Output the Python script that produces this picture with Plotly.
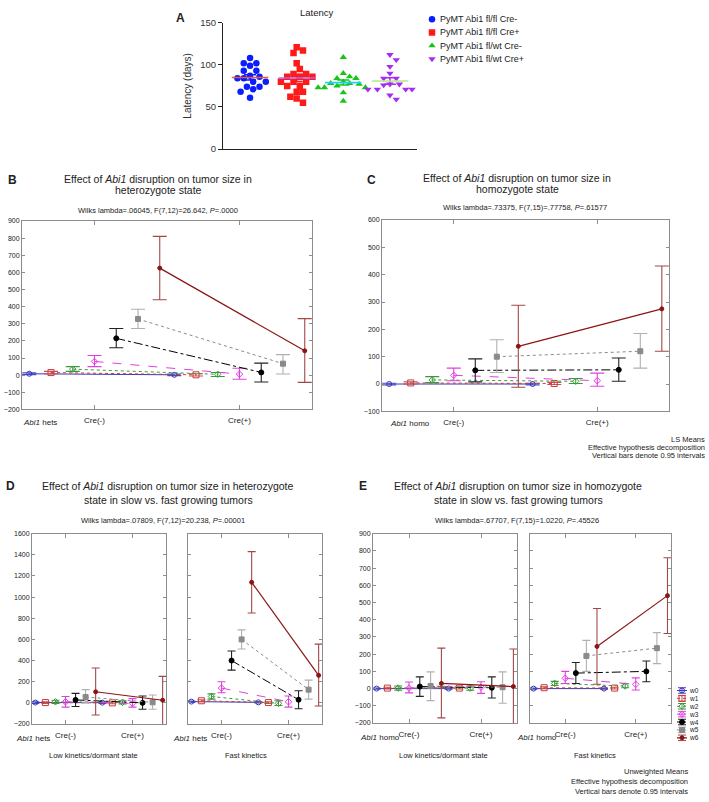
import numpy as np
import plotly.graph_objects as go

W, H = 709, 802
FONT = "Liberation Sans, Arial, sans-serif"

# ---------------- Panel A data (latency, days) ----------------
lat_groups = ["PyMT Abi1 fl/fl Cre-", "PyMT Abi1 fl/fl Cre+", "PyMT Abi1 fl/wt Cre-", "PyMT Abi1 fl/wt Cre+"]
lat_flfl_creneg = [108, 102, 102, 99, 93, 93, 87, 86, 84, 84, 80, 80, 74, 74, 71, 68, 61]
lat_flfl_crepos = [121, 117, 114, 102, 95, 89, 89, 86, 86, 86, 80, 80, 80, 75, 75, 68, 68, 62, 60, 55]
lat_flwt_creneg = [109, 90, 86, 84, 84, 80, 78, 78, 77, 75, 73, 73, 73, 67, 57]
lat_flwt_crepos = [112, 106, 98, 90, 84, 84, 77, 77, 76, 71, 71, 71, 71, 64, 59]
lat_ticks = [0, 50, 100, 150]

# ---------------- Panels B-E data (tumor size, means and 0.95 CI) ----------------
series = ["w0", "w1", "w2", "w3", "w4", "w5", "w6"]
cre_labels = ["Cre(-)", "Cre(+)"]

# B: heterozygote
B_neg_mean = [8, 15, 35, 80, 215, 328, 625]
B_neg_lo = [3, 8, 22, 50, 160, 272, 440]
B_neg_hi = [13, 22, 50, 115, 272, 385, 810]
B_pos_mean = [2, 2, 5, 6, 16, 67, 142]
B_pos_lo = [-3, -5, -8, -24, -40, 7, -42]
B_pos_hi = [7, 8, 15, 40, 70, 120, 330]

# C: homozygote
C_neg_mean = [0, 4, 15, 32, 50, 100, 138]
C_neg_lo = [-3, 0, 5, 12, 8, 42, -12]
C_neg_hi = [3, 8, 27, 58, 92, 162, 288]
C_pos_mean = [0, 2, 10, 12, 52, 120, 275]
C_pos_lo = [-3, -2, 2, -8, 10, 58, 120]
C_pos_hi = [3, 6, 20, 40, 95, 185, 432]

# D: heterozygote, low kinetics / fast kinetics
DL_neg_mean = [3, 3, 10, 10, 28, 55, 105]
DL_neg_lo = [-5, -5, -5, -40, -35, 0, -115]
DL_neg_hi = [10, 10, 25, 60, 90, 125, 330]
DL_pos_mean = [2, 0, 5, -5, 0, 5, 25]
DL_pos_lo = [-5, -8, -10, -40, -60, -60, -220]
DL_pos_hi = [8, 8, 20, 40, 65, 75, 250]

DR_neg_mean = [12, 20, 60, 140, 400, 600, 1140]
DR_neg_lo = [5, 10, 35, 95, 310, 510, 850]
DR_neg_hi = [18, 30, 85, 200, 490, 690, 1430]
DR_pos_mean = [5, 3, -5, 10, 30, 125, 260]
DR_pos_lo = [-2, -5, -25, -40, -55, 35, -30]
DR_pos_hi = [12, 11, 20, 65, 115, 215, 555]

# E: homozygote, low kinetics / fast kinetics
EL_neg_mean = [0, 3, 3, 3, 12, 15, 30]
EL_neg_lo = [-3, -2, -10, -25, -45, -70, -170]
EL_neg_hi = [3, 8, 15, 38, 68, 97, 235]
EL_pos_mean = [0, 3, 3, 8, 5, 8, 12]
EL_pos_lo = [-3, -2, -10, -28, -55, -85, -230]
EL_pos_hi = [3, 8, 15, 40, 68, 97, 230]

ER_neg_mean = [0, 5, 30, 60, 90, 190, 245]
ER_neg_lo = [-3, 0, 18, 30, 30, 100, 25]
ER_neg_hi = [3, 10, 42, 100, 152, 280, 465]
ER_pos_mean = [0, 3, 15, 25, 100, 235, 540]
ER_pos_lo = [-3, -2, 5, -8, 40, 145, 320]
ER_pos_hi = [3, 8, 28, 62, 160, 325, 760]

# ---------------- styles ----------------
A_colors = ["#0a1eff", "#ff1a1a", "#19c419", "#a62cf0"]
A_symbols = ["circle", "square", "triangle-up", "triangle-down"]
S_colors = ["#3535c0", "#cc3a3a", "#3a9a3a", "#e040e0", "#000000", "#8a8a8a", "#8b1414"]
S_err = ["#4a4ac4", "#c85050", "#3a9a3a", "#e040e0", "#222222", "#b0b0b0", "#a04848"]
S_dash = ["solid", "dot", "dot", "dash", "dashdot", "dot", "solid"]
S_sym = ["circle-open", "square-open", "diamond-open", "diamond-open", "circle", "square", "circle"]
S_size = [5, 6, 5, 5, 5, 5, 4]
FRAME = "#8c8c8c"


def xd(a, b):
    return [a / W, b / W]


def yd(top, bottom):
    return [1 - bottom / H, 1 - top / H]


fig = go.Figure()
layout = dict(width=W, height=H, margin=dict(l=0, r=0, t=0, b=0), showlegend=False,
              plot_bgcolor="white", paper_bgcolor="white", font=dict(family=FONT, color="#222"))
ann = []


def text(x, y, s, size, xanchor="center", yanchor="middle", bold=False, color="#222"):
    if bold:
        s = "<b>" + s + "</b>"
    ann.append(dict(x=x / W, y=1 - y / H, xref="paper", yref="paper", text=s, showarrow=False,
                    xanchor=xanchor, yanchor=yanchor, font=dict(size=size, family=FONT, color=color)))


# ---------------- Panel A ----------------
A_xr = [0.42, 4.58]
A_dom_x = (223, 417)
A_dom_y = (17, 145)
x_px_per_unit = (A_dom_x[1] - A_dom_x[0]) / (A_xr[1] - A_xr[0])
y_px_per_unit = (A_dom_y[1] - A_dom_y[0]) / 150.0


def swarm(values, diam=6.3):
    order = sorted(range(len(values)), key=lambda k: -values[k])
    placed = []
    offs = [0.0] * len(values)
    cands = [0.0]
    for j in range(1, 30):
        cands += [j * diam / 2, -j * diam / 2]
    for k in order:
        yy = values[k] * y_px_per_unit
        chosen = cands[-1]
        for c in cands:
            if all((c - px) ** 2 + (yy - py) ** 2 >= diam ** 2 for px, py in placed):
                chosen = c
                break
        placed.append((chosen, yy))
        offs[k] = chosen / x_px_per_unit
    return offs


A_data = [lat_flfl_creneg, lat_flfl_crepos, lat_flwt_creneg, lat_flwt_crepos]
for gi, vals in enumerate(A_data):
    offs = swarm(vals)
    xs = [gi + 1 + o for o in offs]
    fig.add_trace(go.Scatter(x=xs, y=vals, mode="markers", xaxis="x", yaxis="y",
                             marker=dict(symbol=A_symbols[gi], size=6.5, color=A_colors[gi], line=dict(width=0)),
                             name=lat_groups[gi]))
    m = float(np.mean(vals))
    sem = float(np.std(vals, ddof=1) / np.sqrt(len(vals)))
    fig.add_trace(go.Scatter(x=[gi + 1], y=[m], mode="markers", xaxis="x", yaxis="y",
                             marker=dict(symbol="line-ew-open", size=26, line=dict(width=1.6, color=A_colors[gi])),
                             error_y=dict(type="data", array=[sem], visible=True, width=6, thickness=1.5,
                                          color=A_colors[gi])))

layout["xaxis"] = dict(domain=xd(*A_dom_x), anchor="y", range=A_xr, showline=True, linecolor="#222",
                       linewidth=1.2, showticklabels=False, ticks="", showgrid=False, zeroline=False)
layout["yaxis"] = dict(domain=yd(*A_dom_y), anchor="x", range=[0, 150], tickvals=lat_ticks, showline=True,
                       linecolor="#222", linewidth=1.2, ticks="outside", ticklen=4, tickcolor="#222",
                       tickfont=dict(size=9.5, color="#333"), showgrid=False, zeroline=False,
                       title=dict(text="Latency (days)", font=dict(size=10, color="#333"), standoff=6))

# legend for A (custom)
for gi in range(4):
    fig.add_trace(go.Scatter(x=[0.5], y=[gi], mode="markers", xaxis="x2", yaxis="y2",
                             marker=dict(symbol=A_symbols[gi], size=6.5, color=A_colors[gi])))
    ann.append(dict(x=438 / W, y=gi, xref="paper", yref="y2", text=lat_groups[gi], showarrow=False,
                    xanchor="left", yanchor="middle", font=dict(size=9, family=FONT, color="#222")))
layout["xaxis2"] = dict(domain=xd(428, 436), anchor="y2", range=[0, 1], visible=False)
layout["yaxis2"] = dict(domain=yd(10, 57), anchor="x2", range=[3.25, -0.25], visible=False)

text(180, 12, "A", 12, bold=True)
text(317, 7, "Latency", 9.5)

# ---------------- Panels B-E ----------------
offset_step = 0.15


def add_panel(ax, neg_mean, neg_lo, neg_hi, pos_mean, pos_lo, pos_hi, cap):
    xa, ya = "x" + str(ax), "y" + str(ax)
    for i in range(7):
        off = (i - 3) * offset_step
        ys = [neg_mean[i], pos_mean[i]]
        up = [neg_hi[i] - neg_mean[i], pos_hi[i] - pos_mean[i]]
        dn = [neg_mean[i] - neg_lo[i], pos_mean[i] - pos_lo[i]]
        fig.add_trace(go.Scatter(x=[1 + off, 2 + off], y=ys, mode="lines", xaxis=xa, yaxis=ya,
                                 line=dict(color=S_colors[i], width=1.2 if i == 6 else 1, dash=S_dash[i]),
                                 name=series[i]))
        fig.add_trace(go.Scatter(x=[1 + off, 2 + off], y=ys, mode="markers", xaxis=xa, yaxis=ya,
                                 marker=dict(symbol=S_sym[i], size=S_size[i], color=S_colors[i],
                                             line=dict(width=1, color=S_colors[i])),
                                 error_y=dict(type="data", array=up, arrayminus=dn, visible=True,
                                              width=cap, thickness=1.1, color=S_err[i]),
                                 name=series[i]))


def frame_axes(ax, dx, dy, yrange, dtick, ylabels=True, xfont=8):
    layout["xaxis" + str(ax)] = dict(domain=xd(*dx), anchor="y" + str(ax), range=[0.5, 2.5], tickvals=[1, 2],
                                     ticktext=cre_labels, ticks="inside", ticklen=4, tickcolor=FRAME,
                                     mirror="ticks", showline=True, linecolor=FRAME, linewidth=1,
                                     showgrid=False, zeroline=False, ticklabelstandoff=3,
                                     tickfont=dict(size=xfont, color="#222"))
    layout["yaxis" + str(ax)] = dict(domain=yd(*dy), anchor="x" + str(ax), range=yrange, dtick=dtick,
                                     ticks="inside", ticklen=3, tickcolor=FRAME, mirror="ticks",
                                     showline=True, linecolor=FRAME, linewidth=1, showgrid=False,
                                     zeroline=False, showticklabels=ylabels,
                                     tickfont=dict(size=7, color="#222"))


# B
add_panel(3, B_neg_mean, B_neg_lo, B_neg_hi, B_pos_mean, B_pos_lo, B_pos_hi, 7)
frame_axes(3, (22, 312), (218, 409), [-200, 900], 100)
text(12, 176, "B", 12, bold=True)
text(158, 175, "Effect of <i>Abi1</i> disruption on tumor size in", 10.5)
text(158, 187, "heterozygote state", 10.5)
text(158, 207, "Wilks lambda=.06045, F(7,12)=26.642, <i>P</i>=.0000", 7.5)
text(40, 422, "<i>Abi1</i> hets", 8)

# C
add_panel(4, C_neg_mean, C_neg_lo, C_neg_hi, C_pos_mean, C_pos_lo, C_pos_hi, 7)
frame_axes(4, (382, 669), (217, 411), [-100, 600], 100)
text(371, 176, "C", 12, bold=True)
text(517, 174, "Effect of <i>Abi1</i> disruption on tumor size in", 10.5)
text(517, 186, "homozygote state", 10.5)
text(525, 204, "Wilks lambda=.73375, F(7,15)=.77758, <i>P</i>=.61577", 7.5)
text(410, 423, "<i>Abi1</i> homo", 8)
text(707, 440, "LS Means", 7.5, xanchor="right")
text(707, 448, "Effective hypothesis decomposition", 7.5, xanchor="right")
text(707, 456, "Vertical bars denote 0.95 intervals", 7.5, xanchor="right")

# D
add_panel(5, DL_neg_mean, DL_neg_lo, DL_neg_hi, DL_pos_mean, DL_pos_lo, DL_pos_hi, 4)
frame_axes(5, (32, 166), (535, 728), [-200, 1600], 200)
add_panel(6, DR_neg_mean, DR_neg_lo, DR_neg_hi, DR_pos_mean, DR_pos_lo, DR_pos_hi, 4)
frame_axes(6, (188, 322), (535, 728), [-200, 1600], 200, ylabels=False)
text(10, 487, "D", 12, bold=True)
text(168, 487, "Effect of <i>Abi1</i> disruption on tumor size in heterozygote", 10.5)
text(168, 501, "state in slow vs. fast growing tumors", 10.5)
text(163, 522, "Wilks lambda=.07809, F(7,12)=20.238, <i>P</i>=.00001", 7.5)
text(33, 743, "<i>Abi1</i> hets", 8)
text(190, 743, "<i>Abi1</i> hets", 8)
text(93, 760, "Low kinetics/dormant state", 7.5)
text(246, 760, "Fast kinetics", 7.5)

# E
add_panel(7, EL_neg_mean, EL_neg_lo, EL_neg_hi, EL_pos_mean, EL_pos_lo, EL_pos_hi, 4)
frame_axes(7, (373, 517), (535, 727), [-200, 900], 100)
add_panel(8, ER_neg_mean, ER_neg_lo, ER_neg_hi, ER_pos_mean, ER_pos_lo, ER_pos_hi, 4)
frame_axes(8, (530, 671), (535, 727), [-200, 900], 100, ylabels=False)
text(363, 487, "E", 12, bold=True)
text(518, 487, "Effect of <i>Abi1</i> disruption on tumor size in homozygote", 10.5)
text(518, 501, "state in slow vs. fast growing tumors", 10.5)
text(517, 522, "Wilks lambda=.67707, F(7,15)=1.0220, <i>P</i>=.45526", 7.5)
text(380, 742, "<i>Abi1</i> homo", 8)
text(537, 742, "<i>Abi1</i> homo", 8)
text(443, 760, "Low kinetics/dormant state", 7.5)
text(595, 760, "Fast kinetics", 7.5)
text(690, 776, "Unweighted Means", 7.5, xanchor="right")
text(690, 786, "Effective hypothesis decomposition", 7.5, xanchor="right")
text(690, 796, "Vertical bars denote 0.95 intervals", 7.5, xanchor="right")

# legend for E (custom, series w0..w6)
for i in range(7):
    fig.add_trace(go.Scatter(x=[0, 1], y=[i, i], mode="lines", xaxis="x9", yaxis="y9",
                             line=dict(color=S_colors[i], width=1.2 if i == 6 else 1, dash=S_dash[i])))
    fig.add_trace(go.Scatter(x=[0.5], y=[i], mode="markers", xaxis="x9", yaxis="y9",
                             marker=dict(symbol=S_sym[i], size=S_size[i], color=S_colors[i],
                                         line=dict(width=1, color=S_colors[i])),
                             error_y=dict(type="data", array=[0.35], visible=True, width=4, thickness=1,
                                          color=S_err[i])))
    ann.append(dict(x=688 / W, y=i, xref="paper", yref="y9", text=series[i], showarrow=False,
                    xanchor="left", yanchor="middle", borderpad=0,
                    font=dict(size=6.5, family=FONT, color="#222")))
layout["xaxis9"] = dict(domain=xd(677, 687), anchor="y9", range=[0, 1], visible=False)
layout["yaxis9"] = dict(domain=yd(690, 746), anchor="x9", range=[6.5, -0.5], visible=False)

layout["annotations"] = ann
fig.update_layout(**layout)
fig.write_html("out.html", post_script="document.body.style.margin='0';",
               config={"displayModeBar": False})
